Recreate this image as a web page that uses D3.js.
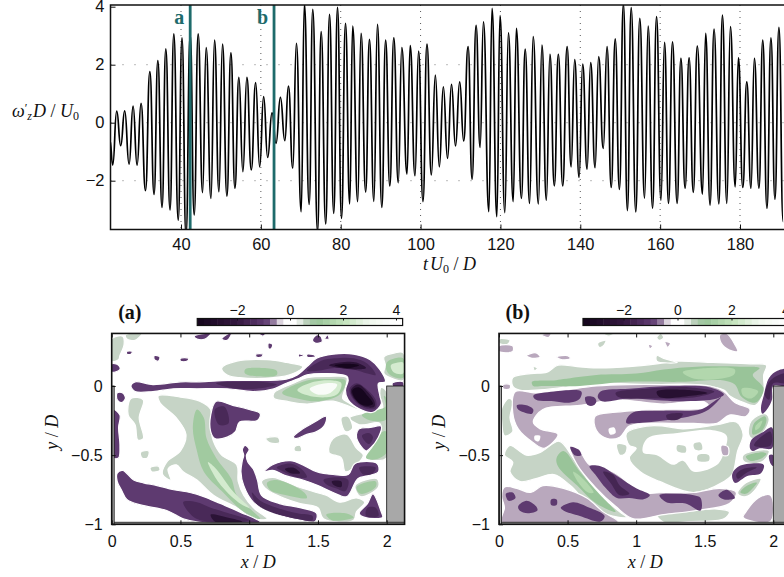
<!DOCTYPE html>
<html>
<head>
<meta charset="utf-8">
<style>
  html, body { margin: 0; background: #fff; overflow: hidden; }
  text { font-family: "Liberation Sans", sans-serif; fill: #111; }
  .math { font-family: "Liberation Serif", serif; font-style: italic; }
</style>
<script src="https://cdn.jsdelivr.net/npm/d3@7"></script>
</head>
<body>
<svg id="fig" width="784" height="577"></svg>
<script>
// top trace: successive extrema
const traceT = [22.2,22.9,23.9,24.9,25.9,27.0,28.0,29.0,30.0,31.1,32.2,33.25,34.2,35.25,36.2,37.25,38.2,39.3,40.25,41.25,42.3,43.3,44.3,45.4,46.3,47.5,48.4,49.5,50.4,51.5,52.5,53.5,54.5,55.5,56.5,57.6,58.7,59.7,60.7,61.7,62.8,63.8,64.9,66.0,66.9,68.0,68.9,
  70.1,70.9,72.1,73.0,74.2,75.1,76.25,77.2,78.25,79.2,80.2,81.2,82.25,83.0,84.25,85.1,86.25,87.2,88.3,89.2,90.3,91.25,92.3,93.3,94.4,95.3,96.6,97.4,98.6,99.5,100.6,101.6,102.7,103.7,104.7,105.7,106.75,107.75,108.75,109.8,110.8,111.9,112.9,113.9,114.9,115.75,117.1,117.9,119.1,119.9,121.1,122.0,123.2,124.0,125.25,126.2,127.3,128.2,129.5,
  130.4,131.5,132.4,133.5,134.5,135.6,136.7,137.7,138.6,139.7,140.6,141.7,142.6,143.7,144.6,145.75,146.7,147.75,148.75,149.8,150.8,151.8,152.75,153.9,154.9,156.1,157.0,158.1,159.1,160.2,161.1,162.1,163.1,164.25,165.2,166.25,167.25,168.3,169.3,170.6,171.4,172.5,173.5,174.7,175.6,176.7,177.6,178.8,179.6,180.7,181.7,182.75,183.6,184.75,185.7,186.75,187.75,188.75,189.75,190.8];
const traceV = [-0.6,-1.46,0.40,-0.79,0.41,-1.43,0.57,-1.46,0.67,-2.34,1.76,-2.47,2.14,-2.92,2.55,-3.01,3.06,-3.36,2.93,-3.9,3.05,-3.18,3.06,-2.41,2.59,-2.61,2.85,-2.38,2.71,-2.53,2.41,-2.26,1.56,-1.69,1.56,-1.63,1.38,-1.52,0.90,-1.2,0.34,-0.71,0.87,-0.62,1.26,-1.57,2.74,
  -3.07,4.1,-2.82,3.91,-3.76,3.14,-3.49,3.74,-3.13,3.98,-3.30,3.43,-2.80,3.33,-2.72,3.08,-2.39,2.87,-2.71,3.39,-2.92,2.85,-2.18,2.93,-2.07,2.59,-1.77,2.66,-1.83,2.47,-2.72,2.71,-1.80,1.64,-1.52,1.24,-1.23,1.32,-0.80,1.41,-0.63,2.62,-1.95,3.36,-0.85,3.48,-3.07,3.94,-3.24,3.69,-3.10,3.10,-2.72,3.25,-2.61,2.54,-2.78,2.97,-2.80,
  2.68,-2.67,2.36,-2.18,2.36,-2.18,2.62,-1.52,2.18,-1.89,2.02,-1.60,2.07,-1.55,2.28,-0.89,2.62,-2.23,2.89,-2.30,4.1,-3.03,3.97,-3.08,3.60,-2.60,3.33,-2.95,3.66,-2.67,2.77,-2.78,2.79,-2.78,2.22,-2.26,2.24,-2.40,2.64,-2.46,3.08,-2.84,3.23,-2.80,3.71,-2.78,3.31,-2.21,2.24,-2.23,1.41,-2.26,2.22,-2.26,2.85,-2.95,2.93,-2.64,3.29,-3.41];
const traceXTicks = [40,60,80,100,120,140,160,180];
const traceYTicks = [-2,0,2,4];
const markers = [{t: 42.3, name: "a"}, {t: 63.3, name: "b"}];

// colour bar
const barValues = [-3.5,-2,-1,-0.75,-0.5,-0.25,0.25,0.5,1,2,3,4];
const barColours = ["#14051c","#34183f","#5e3a70","#6f5080","#b9a8bd","#ffffff","#ffffff","#c6d4c6","#99c499","#c2e3bb","#f0f8ee","#ffffff"];
const barTicks = [-2,0,2,4];
const xTicks = [0,0.5,1,1.5,2];
const yTicks = [-1,-0.5,0];

// panel (a) contour outlines, x,y pairs in x/D, y/D
const aGreen1 = [
  [.80,.13,.91,.18,1.13,.19,1.27,.17,1.39,.14,1.32,.09,1.18,.06,.93,.06,.84,.08],
  [1.18,-.05,1.32,.02,1.42,.06,1.58,.07,1.71,.06,1.70,-.01,1.68,-.09,1.72,-.12,1.81,-.18,1.61,-.11,1.42,-.13,1.27,-.11,1.18,-.09],
  [.34,-.07,.50,-.08,.64,-.11,.72,-.17,.72,-.30,.74,-.40,.80,-.50,.91,-.57,.92,-.69,.96,-.79,1.03,-.88,1.13,-.96,1.03,-.96,.91,-.88,.74,-.79,.62,-.68,.52,-.62,.47,-.57,.41,-.60,.43,-.68,.37,-.64,.40,-.55,.50,-.47,.54,-.35,.47,-.23,.35,-.12],
  [.14,-.09,.23,-.10,.20,-.23,.23,-.38,.19,-.39,.17,-.28,.12,-.21],
  [.21,-.48,.27,-.47,.26,-.52,.22,-.52],
  [.28,-.59,.34,-.58,.35,-.61,.29,-.62],
  [0,.34,.08,.36,.09,.30,.06,.22,.05,.19,0,.18],
  [.10,.37,.22,.38,.17,.33,.11,.34],
  [1.98,.21,2.06,.24,2.12,.24,2.12,.04,2.05,.05,1.98,.09,1.99,.15],
  [2.0,-.04,2.0,-.52,1.92,-.54,1.87,-.53,1.90,-.46,1.95,-.36,1.95,-.27,1.80,-.28,1.73,-.23,1.86,-.19,1.97,-.16,1.95,-.07,1.96,-.01],
  [1.61,-.38,1.71,-.35,1.78,-.45,1.83,-.50,1.80,-.55,1.70,-.62,1.67,-.52,1.58,-.48],
  [1.67,-.23,1.72,-.22,1.75,-.31,1.70,-.33],
  [1.12,-.38,1.21,-.37,1.22,-.41,1.15,-.41],
  [1.33,-.44,1.37,-.43,1.38,-.47,1.33,-.47],
  [1.09,-.69,1.17,-.66,1.36,-.73,1.49,-.77,1.56,-.79,1.66,-.84,1.78,-.81,1.84,-.84,1.78,-.91,1.76,-.97,1.54,-.96,1.50,-.88,1.37,-.85,1.25,-.81,1.13,-.75],
  [1.77,-.72,1.93,-.67,1.94,-.73,1.81,-.80]
];
const aGreen2 = [
  [.97,.12,1.1,.13,1.2,.11,1.2,.08,1.05,.07,.97,.09],
  [1.24,-.05,1.42,.04,1.58,.05,1.7,.04,1.66,-.06,1.51,-.11,1.35,-.09],
  [.62,-.17,.67,-.23,.69,-.38,.76,-.52,.87,-.67,.91,-.79,1.08,-.96,.96,-.91,.80,-.76,.67,-.62,.62,-.47,.59,-.30],
  [2.0,.17,2.06,.2,2.12,.2,2.12,.06,2.04,.07,2.0,.11],
  [1.98,-.07,2.0,-.09,2.0,-.24,1.88,-.25,1.82,-.21,1.94,-.17,1.99,-.15],
  [1.85,-.52,1.9,-.44,1.97,-.33,2.0,-.33,2.0,-.48,1.92,-.53],
  [1.13,-.70,1.2,-.68,1.40,-.77,1.42,-.81,1.27,-.79,1.15,-.75],
  [1.56,-.93,1.7,-.92,1.76,-.95,1.6,-.97],
  [1.78,-.73,1.92,-.69,1.92,-.73,1.81,-.78]
];
const aGreen3 = [
  [1.35,-.03,1.47,.03,1.61,.04,1.67,.02,1.64,-.06,1.49,-.08],
  [.70,-.55,.76,-.6,.88,-.76,1.0,-.88,.92,-.84,.78,-.70],
  [2.03,.15,2.08,.17,2.12,.17,2.12,.09,2.05,.1]
];
const aGreen4 = [
  [1.44,-.02,1.56,.02,1.64,.01,1.59,-.05,1.49,-.06]
];
const aPurple1 = [
  [.14,0,.17,.03,.30,.01,.50,.03,.64,.03,.84,.04,1.03,.04,1.27,.05,1.35,.08,1.42,.14,1.49,.20,1.61,.23,1.76,.23,1.88,.19,1.95,.12,1.99,.03,1.94,.02,1.95,-.07,1.96,-.13,1.90,-.19,1.81,-.17,1.72,-.10,1.70,-.03,1.72,.04,1.71,.07,1.56,.09,1.42,.08,1.35,.05,1.27,.02,1.18,-.02,1.03,-.04,.84,-.02,.62,-.02,.45,-.02,.30,-.04,.17,-.04],
  [.76,-.11,.88,-.14,1.00,-.17,1.08,-.20,1.06,-.25,.93,-.26,.90,-.33,.84,-.37,.75,-.38,.72,-.33,.72,-.21],
  [1.32,-.37,1.39,-.31,1.46,-.27,1.56,-.22,1.55,-.28,1.49,-.33,1.42,-.35,1.34,-.38],
  [1.80,-.31,1.88,-.30,1.96,-.29,1.94,-.37,1.88,-.45,1.85,-.47,1.79,-.40,1.78,-.35],
  [1.11,-.62,1.17,-.57,1.30,-.54,1.39,-.57,1.49,-.62,1.61,-.64,1.72,-.64,1.77,-.56,1.93,-.56,1.94,-.62,1.86,-.65,1.79,-.67,1.71,-.80,1.61,-.77,1.50,-.72,1.39,-.68,1.27,-.65,1.17,-.61],
  [.95,-.46,.97,-.43,1.0,-.46,.98,-.50,.99,-.55,1.03,-.60,1.06,-.68,1.09,-.79,1.22,-.85,1.37,-.88,1.49,-.92,1.48,-.98,1.37,-.97,1.18,-.92,1.03,-.84,.96,-.72,.94,-.62,.95,-.54,.96,-.50],
  [.04,-.63,.08,-.61,.16,-.68,.23,-.70,.33,-.72,.45,-.75,.57,-.77,.67,-.80,.79,-.85,.93,-.91,1.08,-.985,.64,-.985,.52,-.96,.40,-.90,.21,-.86,.11,-.82,.07,-.75,.04,-.69],
  [.01,-.17,.06,-.21,.05,-.30,.06,-.43,.05,-.52,.01,-.52],
  [.04,-.05,.08,-.05,.10,-.09,.07,-.12,.04,-.10],
  [0,.16,.05,.15,.06,.12,0,.10],
  [.60,.36,.68,.38,.72,.38,.68,.34,.62,.34],
  [.80,.34,.85,.38,.87,.38,.84,.33],
  [1.46,.33,1.49,.37,1.52,.36,1.53,.32,1.48,.31],
  [1.07,.38,1.12,.38,1.10,.36],
  [1.57,.37,1.58,.34,1.55,.34],
  [.11,.25,.15,.25,.14,.23,.11,.23],
  [.31,.22,.35,.21,.34,.18,.31,.19],
  [.5,.2,.56,.2,.55,.18,.5,.18],
  [1.05,.23,1.1,.23,1.09,.21,1.05,.21],
  [1.14,.31,1.17,.3,1.16,.27,1.14,.27],
  [1.36,.23,1.4,.22,1.36,.21],
  [1.42,.23,1.48,.22,1.48,.21,1.42,.21],
  [1.90,-.78,1.96,-.91,1.97,-.95,1.84,-.95,1.80,-.92,1.86,-.85],
  [2.04,.02,2.12,.03,2.12,-.01,2.05,-.01]
];
const aPurple2 = [
  [.76,.02,.9,.03,1.08,.03,1.2,.01,1.05,-.02,.85,-.01],
  [1.42,.11,1.52,.18,1.62,.20,1.76,.20,1.86,.16,1.92,.08,1.86,.09,1.76,.12,1.62,.13,1.5,.11],
  [1.73,-.02,1.78,.02,1.85,-.02,1.92,-.10,1.92,-.16,1.84,-.16,1.76,-.10],
  [.75,-.17,.82,-.15,.85,-.27,.78,-.28],
  [1.82,-.36,1.87,-.34,1.90,-.37,1.87,-.42],
  [1.2,-.59,1.3,-.56,1.38,-.60,1.42,-.66,1.35,-.66,1.25,-.62],
  [1.54,-.68,1.63,-.66,1.72,-.68,1.70,-.76,1.63,-.74,1.56,-.71],
  [1.80,-.59,1.87,-.58,1.92,-.59,1.9,-.63,1.83,-.64],
  [1.02,-.77,1.08,-.83,1.2,-.88,1.35,-.92,1.46,-.94,1.46,-.97,1.3,-.95,1.15,-.91,1.05,-.85],
  [.52,-.84,.62,-.84,.72,-.88,.85,-.92,1.0,-.97,.72,-.98,.6,-.95],
  [1.86,-.88,1.92,-.88,1.94,-.94,1.85,-.94]
];
const aPurple3 = [
  [1.58,.15,1.66,.17,1.78,.17,1.85,.13,1.78,.12,1.66,.13],
  [1.74,-.03,1.79,.01,1.85,-.03,1.91,-.11,1.91,-.15,1.84,-.15,1.77,-.10],
  [1.26,-.6,1.32,-.59,1.37,-.63,1.3,-.63],
  [1.6,-.69,1.67,-.69,1.67,-.73,1.62,-.72],
  [.72,-.93,.84,-.95,.95,-.98,.75,-.98]
];
const aPurple4 = [
  [1.75,-.03,1.80,-.01,1.86,-.07,1.90,-.13,1.83,-.14,1.77,-.09],
  [1.62,.15,1.72,.16,1.8,.15,1.72,.13]
];

// panel (b) contour outlines
const bGreen1 = [
  [.10,.06,.23,.09,.35,.10,.43,.15,.57,.14,.74,.13,.95,.14,1.15,.16,1.3,.18,1.56,.17,1.83,.16,1.95,.15,1.93,.08,1.93,-.04,1.87,-.14,1.76,-.11,1.68,-.07,1.64,-.03,1.44,.01,1.08,.01,.71,.02,.47,-.01,.27,-.03,.15,-.03,.10,0],
  [.08,-.43,.2,-.5,.3,-.48,.44,-.40,.54,-.52,.71,-.76,.88,-.91,.93,-.95,.79,-.93,.64,-.84,.52,-.72,.40,-.64,.27,-.67,.15,-.69,.08,-.62,.10,-.55,.04,-.5],
  [.93,-.34,1.08,-.29,1.2,-.29,1.34,-.31,1.59,-.28,1.73,-.26,1.78,-.35,1.74,-.47,1.70,-.64,1.64,-.69,1.42,-.77,1.17,-.69,1.03,-.62,.95,-.52,1,-.45,.95,-.43],
  [.02,-.16,.07,-.09,.10,-.11,.08,-.23,.10,-.33,.04,-.36,.02,-.26],
  [0,.34,.08,.33,.06,.30,0,.31],
  [.72,.31,.78,.33,.76,.29,.73,.28],
  [1.15,.22,1.2,.2,1.3,.17,1.15,.18],
  [.25,.14,.28,.13,.26,.11],
  [1.15,.35,1.18,.38,1.2,.35,1.17,.33],
  [.76,.38,.84,.38,.8,.36],
  [1.15,-.93,1.34,-.91,1.59,-.89,1.68,-.91,1.64,-.96,1.39,-.98,1.2,-.985],
  [.15,-.77,.23,-.77,.25,-.80,.17,-.81],
  [.86,-.42,.93,-.43,.92,-.49,.88,-.50],
  [1.84,-.25,1.94,-.2,1.97,-.24,1.93,-.33,1.85,-.38,1.82,-.35],
  [1.78,-.5,1.93,-.46,1.97,-.47,1.93,-.54,1.83,-.56,1.78,-.54],
  [1.74,-.77,1.8,-.7,1.91,-.67,1.86,-.76,1.8,-.8,1.75,-.79]
];
const bHoles = [
  [1.08,-.38,1.3,-.34,1.56,-.32,1.66,-.36,1.64,-.48,1.59,-.57,1.42,-.62,1.34,-.54,1.27,-.57,1.15,-.5,1.05,-.48]
];
const bGreenSpots = [
  [1.42,-.42,1.47,-.41,1.48,-.46,1.43,-.46],
  [1.3,-.43,1.36,-.44,1.36,-.48,1.3,-.47],
  [1.45,-.5,1.53,-.5,1.53,-.54,1.45,-.54]
];
const bGreen2 = [
  [.24,.03,.32,.04,.40,.04,.47,.05,.71,.08,1,.09,1.2,.12,1.44,.14,1.76,.14,1.9,.13,1.85,.08,1.93,-.02,1.87,-.12,1.77,-.08,1.72,.01,1.64,.04,1.32,.03,.93,.03,.59,0,.41,0,.32,0,.25,0],
  [.42,-.52,.47,-.47,.59,-.62,.74,-.79,.85,-.91,.71,-.85,.57,-.72,.43,-.58],
  [1.86,-.27,1.94,-.22,1.95,-.25,1.92,-.32,1.85,-.35],
  [1.8,-.51,1.93,-.48,1.95,-.49,1.92,-.52,1.83,-.54],
  [1.76,-.77,1.81,-.72,1.88,-.70,1.84,-.75,1.8,-.78]
];
const bGreen3 = [
  [1.34,.1,1.53,.13,1.72,.12,1.71,.08,1.44,.05],
  [1.77,-.02,1.85,-.02,1.89,-.04,1.84,-.09,1.78,-.07],
  [.54,-.62,.59,-.65,.69,-.77,.65,-.77,.58,-.70],
  [1.87,-.29,1.92,-.25,1.9,-.3,1.87,-.32]
];
const bPurple1 = [
  [.12,-.04,.27,-.05,.47,-.03,.71,0,.95,.01,1.2,.01,1.54,0,1.64,-.04,1.72,-.12,1.83,-.17,1.80,-.22,1.68,-.21,1.59,-.27,1.42,-.27,1.25,-.27,1.08,-.27,.95,-.29,.88,-.37,.79,-.38,.71,-.32,.7,-.22,.85,-.19,1.13,-.17,1.53,-.15,1.49,-.11,1.2,-.13,.85,-.1,.59,-.14,.32,-.17,.25,-.26,.3,-.31,.43,-.35,.33,-.45,.25,-.41,.14,-.31,.1,-.19],
  [.52,-.44,.58,-.46,.66,-.57,.83,-.62,1.05,-.77,1.2,-.77,1.42,-.77,1.61,-.74,1.73,-.77,1.68,-.85,1.44,-.9,1.2,-.93,.98,-.96,.85,-.87,.71,-.74,.57,-.57],
  [.04,-.73,.13,-.74,.23,-.77,.32,-.72,.47,-.74,.64,-.81,.76,-.91,.87,-.985,.02,-.985,.04,-.88,.02,-.8],
  [1.89,-.81,1.98,-.79,1.98,-.98,1.78,-.95,1.8,-.91],
  [1.61,.37,1.66,.38,1.72,.3,1.74,.25,1.68,.26,1.62,.31],
  [.2,.22,.27,.24,.3,.21,.24,.2],
  [.42,.21,.5,.22,.52,.2,.46,.19],
  [.03,.01,.08,.01,.08,-.02,.03,-.02],
  [1.09,.3,1.12,.29,1.1,.27],
  [1.21,.32,1.25,.31,1.23,.28],
  [.31,.37,.38,.38,.36,.35],
  [1.62,-.43,1.67,-.44,1.67,-.5,1.63,-.5],
  [0,.29,.1,.29,.1,.25,0,.25]
];
const bHoles2 = [
  [.8,-.31,.84,-.3,.85,-.34,.81,-.35],
  [.26,-.36,.3,-.36,.29,-.4,.26,-.39]
];
const bPurple2 = [
  [.25,-.07,.40,-.04,.6,-.04,.59,-.09,.52,-.12,.4,-.11,.27,-.1],
  [.63,-.08,.69,-.08,.71,-.11,.69,-.14,.65,-.14,.63,-.11],
  [.74,-.04,.95,-.02,1.25,0,1.54,-.01,1.64,-.06,1.59,-.09,1.32,-.11,.95,-.09,.75,-.11,.72,-.08],
  [.93,-.24,.98,-.19,1.2,-.18,1.47,-.17,1.57,-.11,1.62,-.08,1.53,-.17,1.43,-.21,1.2,-.25,.98,-.27,.93,-.27],
  [.66,-.58,.74,-.58,.86,-.65,1.0,-.74,1.1,-.79,1.05,-.82,.95,-.81,.86,-.81,.78,-.74,.71,-.65],
  [1.17,-.79,1.29,-.78,1.42,-.79,1.47,-.81,1.47,-.9,1.36,-.85,1.22,-.84],
  [1.6,-.79,1.66,-.75,1.72,-.81,1.64,-.82],
  [.45,-.88,.54,-.84,.66,-.88,.77,-.94,.74,-.98,.59,-.94,.47,-.9],
  [.14,-.87,.2,-.83,.27,-.87,.28,-.9,.21,-.92,.15,-.9],
  [.05,-.78,.1,-.77,.12,-.81,.07,-.83],
  [.38,-.82,.42,-.82,.42,-.86,.38,-.86],
  [.13,-.14,.2,-.14,.25,-.17,.24,-.2,.14,-.17],
  [.52,-.44,.58,-.46,.6,-.5,.55,-.5],
  [1.91,-.16,1.93,-.07,1.97,.06,2.03,.11,2.12,.12,2.12,0,2,0,1.99,-.1,1.96,-.16,1.92,-.2],
  [1.83,-.45,1.84,-.39,1.93,-.33,1.99,-.3,1.99,-.45,1.9,-.45,1.85,-.47],
  [1.97,-.5,2,-.5,2,-.58,1.98,-.56],
  [1.7,-.64,1.75,-.58,1.93,-.57,1.91,-.63,1.81,-.65,1.72,-.7]
];
const bPurple3 = [
  [.85,-.05,1.08,-.02,1.4,-.01,1.57,-.04,1.44,-.08,1.08,-.09,.87,-.08],
  [1.22,-.21,1.34,-.2,1.31,-.24,1.23,-.24],
  [.76,-.62,.83,-.64,.88,-.72,.95,-.78,.88,-.79,.82,-.71],
  [1.94,-.07,1.97,.03,2.04,.08,2.12,.09,2.12,.02,2,.02,1.97,-.1],
  [1.86,-.43,1.92,-.36,1.98,-.33,1.98,-.43],
  [1.73,-.64,1.78,-.6,1.88,-.59,1.8,-.63,1.74,-.67]
];
const bPurple4 = [
  [1.15,-.04,1.4,-.03,1.52,-.05,1.4,-.07,1.17,-.08]
];

const svg = d3.select("#fig");
const colour = d3.scaleLinear().domain(barValues).range(barColours).clamp(true);
const tickText = d3.format("~g");

function styleAxis(g, size) {
  g.select(".domain").remove();
  g.selectAll("text").style("font-size", (size || 16.5) + "px");
  g.selectAll("line").attr("stroke", "#111");
}

/////////////////////////
// TOP TIME TRACE      //
/////////////////////////
const frame = {left: 110.5, right: 790, top: 5, bottom: 229.5};
const x = d3.scaleLinear().domain([40, 180]).range([181, 740]);
const y = d3.scaleLinear().domain([-2, 2]).range([180.7, 64.7]);

svg.append("clipPath").attr("id", "traceClip")
  .append("rect")
  .attr("x", frame.left).attr("y", frame.top)
  .attr("width", frame.right - frame.left).attr("height", frame.bottom - frame.top);

svg.append("g").selectAll("line").data([-2, 0, 2]).join("line")
  .attr("x1", frame.left).attr("x2", frame.right)
  .attr("y1", d => y(d)).attr("y2", d => y(d))
  .attr("stroke", "#777").attr("stroke-width", 1).attr("stroke-dasharray", "1 11");
svg.append("g").selectAll("line").data(traceXTicks).join("line")
  .attr("x1", d => x(d)).attr("x2", d => x(d))
  .attr("y1", frame.top).attr("y2", frame.bottom)
  .attr("stroke", "#444").attr("stroke-width", 0.9).attr("stroke-dasharray", "1 5");

const traceLine = d3.line()
  .x(i => x(traceT[i]))
  .y(i => y(traceV[i]))
  .curve(d3.curveBumpX);

svg.append("path")
  .attr("clip-path", "url(#traceClip)")
  .attr("d", traceLine(d3.range(traceT.length)))
  .attr("fill", "none")
  .attr("stroke", "#000")
  .attr("stroke-width", 1.7);

svg.append("g").selectAll("line").data(markers).join("line")
  .attr("x1", d => x(d.t)).attr("x2", d => x(d.t))
  .attr("y1", frame.top).attr("y2", frame.bottom)
  .attr("stroke", "#1e6b6b").attr("stroke-width", 2.8);
svg.append("g").selectAll("text").data(markers).join("text")
  .attr("x", d => x(d.t) - 6)
  .attr("y", 24)
  .attr("text-anchor", "end")
  .style("font", "bold 20px 'Liberation Serif', serif")
  .style("fill", "#1e6b6b")
  .text(d => d.name);

svg.append("g").attr("transform", `translate(0,${frame.bottom})`)
  .call(d3.axisBottom(x).tickValues(traceXTicks).tickSizeInner(-5).tickSizeOuter(0).tickPadding(9))
  .call(styleAxis);
svg.append("g").attr("transform", `translate(${frame.left},0)`)
  .call(d3.axisLeft(y).tickValues(traceYTicks).tickFormat(tickText).tickSizeInner(-5).tickSizeOuter(0).tickPadding(6))
  .call(styleAxis);

svg.append("path")
  .attr("d", `M${frame.right},${frame.top}H${frame.left}V${frame.bottom}H${frame.right}`)
  .attr("fill", "none").attr("stroke", "#111").attr("stroke-width", 1.5);

function mathLabel(sel, parts) {
  parts.forEach(p => {
    const t = sel.append("tspan").text(p.s);
    if (p.sub) t.style("font-size", "12px").attr("dy", p.sub);
    if (p.dy) t.attr("dy", p.dy);
    if (p.dx) t.attr("dx", p.dx);
    if (p.plain) t.style("font-style", "normal");
  });
}

mathLabel(svg.append("text").attr("class", "math").attr("x", 12).attr("y", 117).style("font-size", "18px"), [
  {s: "ω"}, {s: "′", sub: -5, plain: true}, {s: "z", sub: 8}, {s: "D", dy: -3, dx: 1}, {s: " / ", plain: true}, {s: "U"}, {s: "0", sub: 3, plain: true}
]);
mathLabel(svg.append("text").attr("class", "math").attr("x", 423).attr("y", 270).style("font-size", "18px"), [
  {s: "t"}, {s: "U", dx: 2}, {s: "0", sub: 3, plain: true}, {s: " / ", dy: -3, plain: true}, {s: "D"}
]);

/////////////////////////
// CONTOUR PANELS      //
/////////////////////////
function panel(opts) {
  const px = d3.scaleLinear().domain([0, 2]).range([opts.x0, opts.x2]);
  const py = d3.scaleLinear().domain([-1, 0]).range([524.3, 386]);
  const L = px(0), R = px(2.13), T = py(0.38), B = py(-1);
  const clipId = "clip" + opts.name;

  svg.append("clipPath").attr("id", clipId)
    .append("rect").attr("x", L).attr("y", T).attr("width", R - L).attr("height", B - T);

  const outline = d3.line()
    .x(d => px(d[0]))
    .y(d => py(d[1]))
    .curve(d3.curveCatmullRomClosed.alpha(0.5));

  const g = svg.append("g").attr("clip-path", `url(#${clipId})`);
  opts.layers.forEach(layer => {
    g.append("g").selectAll("path").data(layer.shapes).join("path")
      .attr("d", s => outline(d3.range(0, s.length, 2).map(i => [s[i], s[i + 1]])))
      .attr("fill", layer.value === 0 ? "#fff" : colour(layer.value))
      .attr("stroke", layer.edge ? "#fff" : "none")
      .attr("stroke-width", layer.edge ? 1.2 : 0);
  });

  // solid body and walls
  const wall = [
    {x1: 2, x2: 2.13, y1: 0, y2: -1},
    {x1: 0, x2: 2.13, y1: -.985, y2: -1},
    {x1: 0, x2: .018, y1: 0, y2: -1}
  ];
  g.append("g").selectAll("rect").data(wall).join("rect")
    .attr("x", d => px(d.x1)).attr("y", d => py(d.y1))
    .attr("width", d => px(d.x2) - px(d.x1))
    .attr("height", d => py(d.y2) - py(d.y1))
    .attr("fill", "#a8a8a8").attr("stroke", "#111").attr("stroke-width", 0.8);

  svg.append("g").attr("transform", `translate(0,${B})`)
    .call(d3.axisBottom(px).tickValues(xTicks).tickFormat(tickText).tickSizeInner(-4).tickSizeOuter(0).tickPadding(11))
    .call(styleAxis, 16);
  svg.append("g").attr("transform", `translate(0,${T})`)
    .call(d3.axisTop(px).tickValues(xTicks).tickFormat("").tickSizeInner(-4).tickSizeOuter(0))
    .call(styleAxis);
  svg.append("g").attr("transform", `translate(${L},0)`)
    .call(d3.axisLeft(py).tickValues(yTicks).tickFormat(tickText).tickSizeInner(-4).tickSizeOuter(0).tickPadding(9))
    .call(styleAxis, 16);

  svg.append("rect")
    .attr("x", L).attr("y", T).attr("width", R - L).attr("height", B - T)
    .attr("fill", "none").attr("stroke", "#111").attr("stroke-width", 1.6);

  svg.append("text")
    .attr("x", L + 6.5).attr("y", 319)
    .style("font", "bold 20px 'Liberation Serif', serif")
    .text(`(${opts.name})`);

  mathLabel(svg.append("text").attr("class", "math").attr("text-anchor", "middle")
    .attr("x", px(1) + 9).attr("y", 568).style("font-size", "18px"), [
    {s: "x"}, {s: " / ", plain: true}, {s: "D"}
  ]);
  mathLabel(svg.append("text").attr("class", "math").attr("text-anchor", "middle")
    .attr("transform", `translate(${L - 54},${py(-.335)}) rotate(-90)`).style("font-size", "18px"), [
    {s: "y"}, {s: " / ", plain: true}, {s: "D"}
  ]);

  // colour bar
  const cb = d3.scaleLinear().domain([0, 2]).range([opts.bar0, opts.bar2]);
  const steps = d3.range(-3.5, 4.25, 0.25);
  svg.append("g").selectAll("rect").data(steps).join("rect")
    .attr("x", d => cb(d)).attr("y", 318.5)
    .attr("width", d => cb(d + .25) - cb(d) + .5).attr("height", 7)
    .attr("fill", d => colour(d + .125));
  svg.append("rect")
    .attr("x", cb(-3.5)).attr("y", 318.5)
    .attr("width", cb(4.25) - cb(-3.5)).attr("height", 7)
    .attr("fill", "none").attr("stroke", "#111").attr("stroke-width", 1.2);
  svg.append("g").attr("transform", "translate(0,318.5)")
    .call(d3.axisTop(cb).tickValues(barTicks).tickFormat(tickText).tickSizeInner(-2).tickSizeOuter(0).tickPadding(4))
    .call(styleAxis, 14);
}

panel({
  name: "a", x0: 111.7, x2: 386.7, bar0: 290, bar2: 343,
  layers: [
    {value: 0.5, shapes: aGreen1, edge: true},
    {value: 1.2, shapes: aGreen2},
    {value: 2.4, shapes: aGreen3},
    {value: 3.6, shapes: aGreen4},
    {value: -1, shapes: aPurple1, edge: true},
    {value: -1.5, shapes: aPurple2},
    {value: -2.4, shapes: aPurple3},
    {value: -3.4, shapes: aPurple4}
  ]
});

panel({
  name: "b", x0: 499, x2: 773.3, bar0: 677.5, bar2: 731.5,
  layers: [
    {value: 0.5, shapes: bGreen1, edge: true},
    {value: 0, shapes: bHoles},
    {value: 0.5, shapes: bGreenSpots},
    {value: 1, shapes: bGreen2},
    {value: 1.6, shapes: bGreen3},
    {value: -0.5, shapes: bPurple1, edge: true},
    {value: 0, shapes: bHoles2},
    {value: -1, shapes: bPurple2},
    {value: -1.6, shapes: bPurple3},
    {value: -2.6, shapes: bPurple4}
  ]
});
</script>
</body>
</html>
